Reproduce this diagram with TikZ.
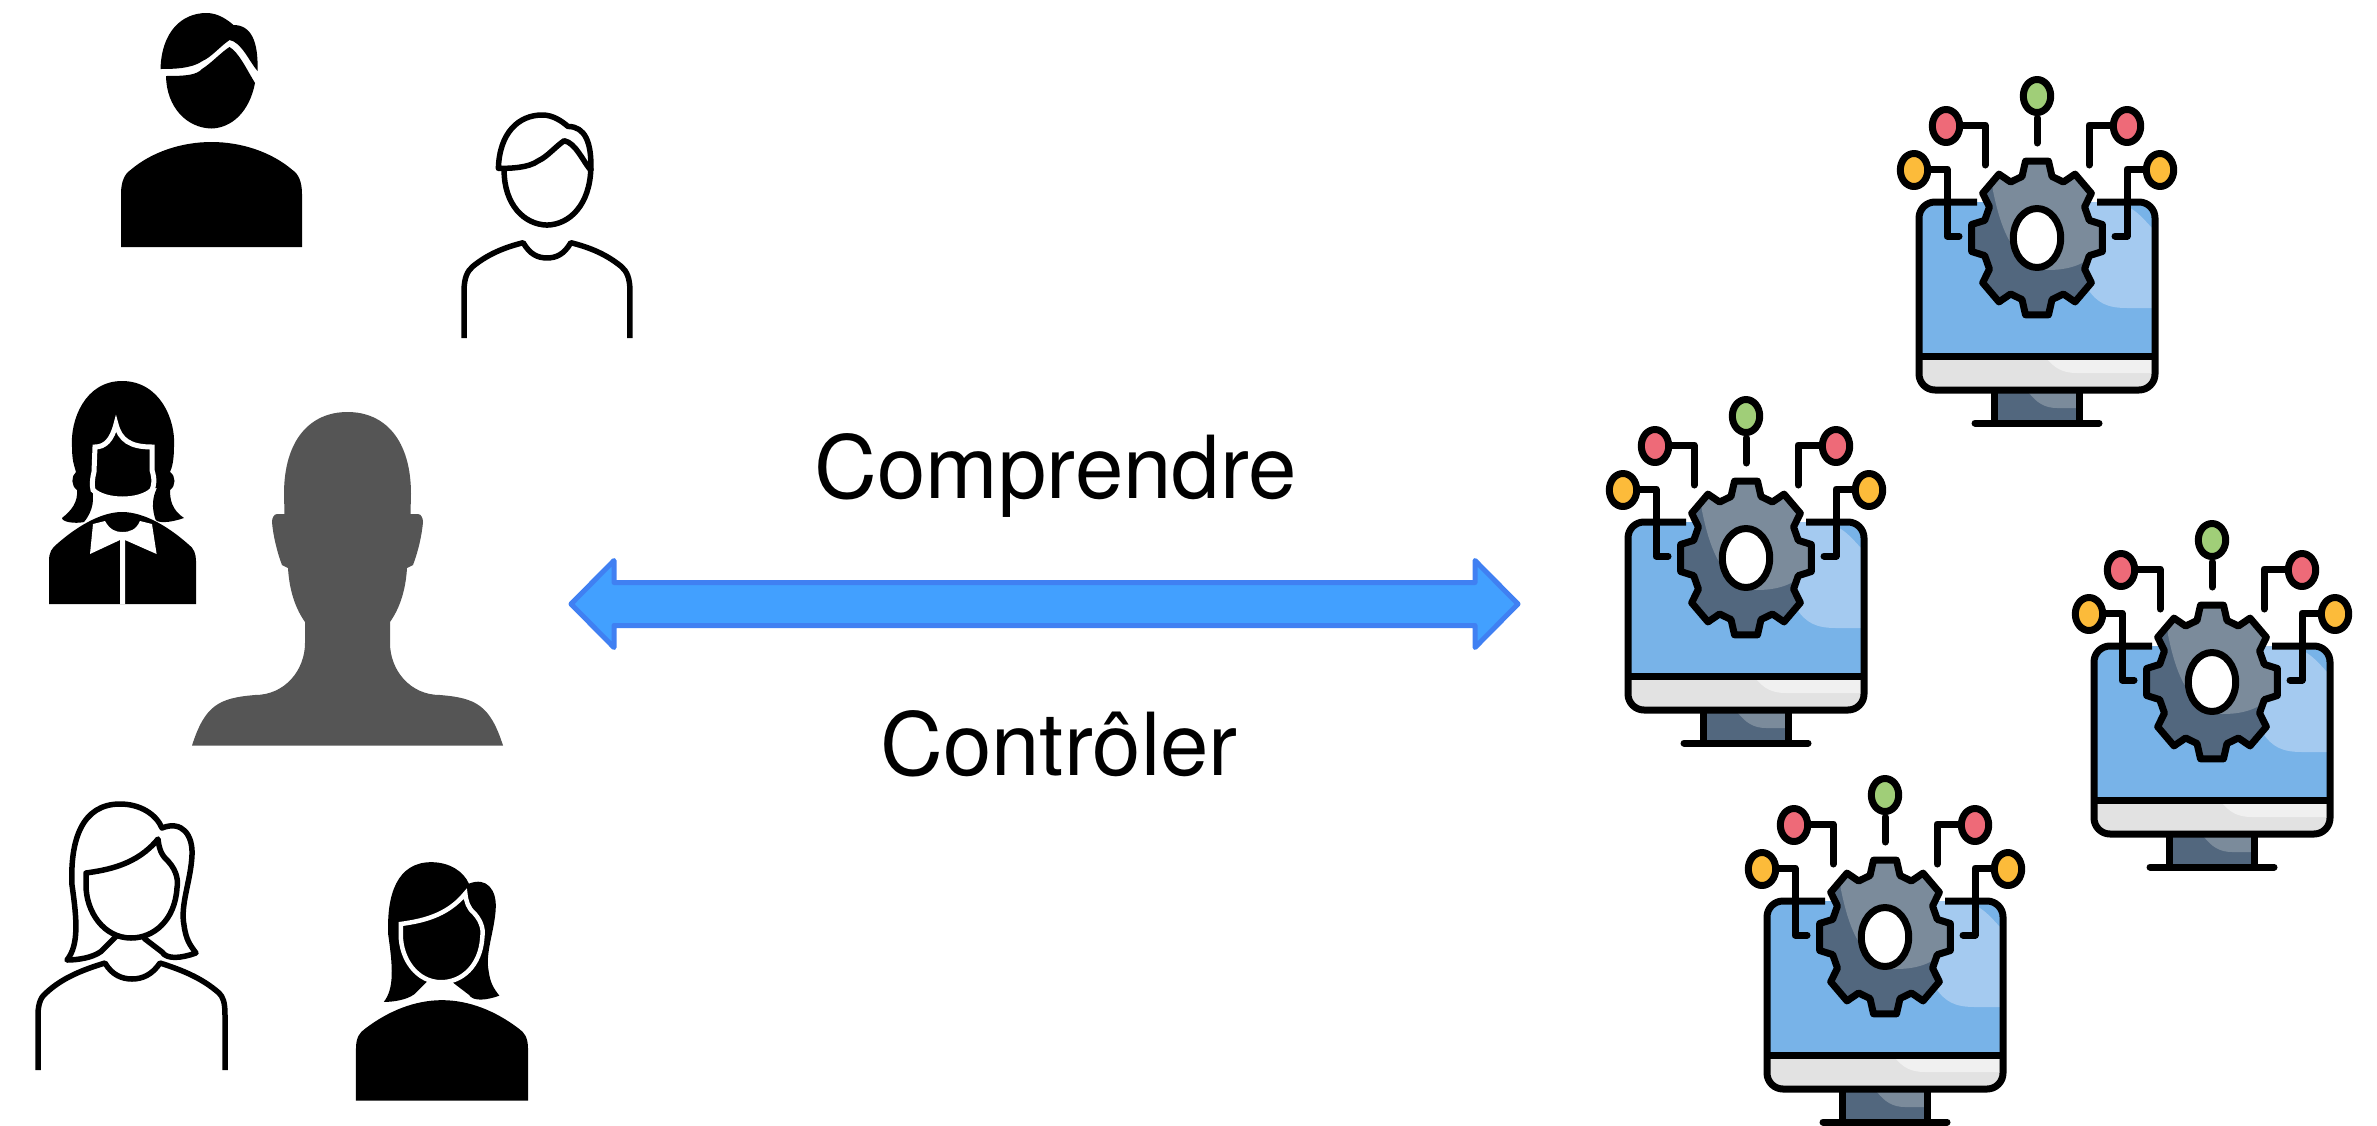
\documentclass[tikz,border=0pt]{standalone}
\usepackage{fontspec}
\setmainfont{TeX Gyre Heros}
\usepackage{tikz}
\definecolor{fleche bleu}{HTML}{42A0FF}
\definecolor{fleche bord}{HTML}{4080F2}
\definecolor{tete gris}{HTML}{555555}
\definecolor{ecran bleu}{HTML}{78B3E8}
\definecolor{ecran clair}{HTML}{A4CAF0}
\definecolor{socle gris}{HTML}{E2E2E2}
\definecolor{socle clair}{HTML}{F0F0F0}
\definecolor{roue sombre}{HTML}{52677E}
\definecolor{roue claire}{HTML}{7B8B9B}
\definecolor{point rouge}{HTML}{EE6A78}
\definecolor{point jaune}{HTML}{FCBB3A}
\definecolor{point vert}{HTML}{A0CE78}
\tikzset{
  trait/.style={draw=black, line width=5.5pt, line join=round},
  pctrait/.style={draw=black, line width=7pt, line join=round},
  legende/.style={anchor=base, font=\fontsize{87}{100}\selectfont},
  fleche/.style={draw=fleche bord, fill=fleche bleu, line width=5pt, line join=round}
}
\newcommand{\hommecheveux}{(-51,-178) .. controls (-50,-215) and (-30,-234) .. (-5,-234) .. controls (6,-234) and (15,-228) .. (22,-222) .. controls (40,-222) and (47,-205) .. (46,-176) .. controls (38,-185) and (30,-205) .. (18,-207) .. controls (8,-200) and (0,-190) .. (-9,-186) .. controls (-20,-178) and (-40,-178) .. (-51,-178) -- cycle}
\newcommand{\femmecheveux}{(-65,-110) .. controls (-53,-125) and (-55,-150) .. (-60,-185) .. controls (-62,-230) and (-50,-266) .. (-12,-266) .. controls (8,-266) and (24,-256) .. (30,-242) .. controls (50,-250) and (61,-235) .. (60,-215) .. controls (59,-190) and (48,-165) .. (52,-145) .. controls (54,-130) and (58,-125) .. (64,-117) .. controls (50,-112) and (35,-110) .. (30,-118) -- (13,-131) -- (-1,-150) -- (-17.5,-132) -- (-31,-118.5) .. controls (-40,-112) and (-55,-110) .. (-65,-110) -- cycle}
\newcommand{\femmevisage}{(-46,-197) .. controls (-25,-200) and (5,-205) .. (26,-231) .. controls (27,-222) and (29,-215) .. (36,-209) .. controls (46,-198) and (46,-188) .. (45,-182) .. controls (43,-150) and (22,-132) .. (-1,-132) .. controls (-28,-132) and (-46,-158) .. (-46,-185) -- cycle}
\newcommand{\pcroue}{(-16:64) \foreach \a in {0,45,...,315} { -- (\a-16:64) -- (\a-10:78) -- (\a+10:78) -- (\a+16:64) } -- cycle}
\newcommand{\hommeplein}[3] {\begin{scope}[shift={(#1)}, scale=#2]
  \coordinate (#3) at (0,0);
  \fill \hommecheveux;
  \fill (-45.5,-171) .. controls (-25,-171) and (-15,-172) .. (-9.5,-178) .. controls (0,-184) and (10,-195) .. (18,-200) .. controls (27,-195) and (35,-178) .. (43.5,-164) .. controls (38,-135) and (20,-119) .. (0,-118.5) .. controls (-25,-119) and (-45,-140) .. (-45.5,-171) -- cycle;
  \fill (-90.5,0) -- (-90.5,-53) .. controls (-90.5,-65) and (-87,-73) .. (-81,-77) .. controls (-60,-95) and (-30,-105) .. (0,-105) .. controls (30,-105) and (60,-95) .. (81,-77) .. controls (87,-73) and (90.5,-65) .. (90.5,-53) -- (90.5,0) -- cycle;
\end{scope}}
\newcommand{\hommetrait}[3] {\begin{scope}[shift={(#1)}, scale=#2]
  \coordinate (#3) at (0,0);
  \draw[trait] \hommecheveux;
  \draw[trait] (-45,-176) .. controls (-45,-140) and (-24,-119) .. (0,-118.5) .. controls (24,-119) and (45,-140) .. (46,-178);
  \draw[trait] (-87,0) -- (-87,-50) .. controls (-87,-62) and (-84,-70) .. (-78,-75) .. controls (-62,-88) and (-45,-95) .. (-25,-100) .. controls (-18,-88) and (-10,-84) .. (0,-84) .. controls (10,-84) and (18,-88) .. (25,-100) .. controls (45,-95) and (62,-88) .. (78,-75) .. controls (84,-70) and (87,-62) .. (87,-50) -- (87,0);
\end{scope}}
\newcommand{\femmetrait}[3] {\begin{scope}[shift={(#1)}, scale=#2]
  \coordinate (#3) at (0,0);
  \draw[trait, fill=white] \femmecheveux;
  \draw[trait, fill=white] \femmevisage;
  \draw[trait] (-94,0) -- (-94,-55) .. controls (-94,-68) and (-90,-74) .. (-86,-77) .. controls (-70,-92) and (-50,-100) .. (-27,-107) .. controls (-20,-95) and (-10,-91) .. (0,-91) .. controls (10,-91) and (20,-95) .. (28,-107) .. controls (50,-100) and (70,-92) .. (87,-77) .. controls (91,-73) and (93,-68) .. (93,-55) -- (93,0);
\end{scope}}
\newcommand{\femmepleine}[3] {\begin{scope}[shift={(#1)}, scale=#2]
  \coordinate (#3) at (0,0);
  \fill \femmecheveux;
  \draw[draw=white, fill=black, line width=4.5pt] \femmevisage;
  \fill (-96,0) -- (-96,-58) .. controls (-96,-70) and (-92,-76) .. (-86,-80) .. controls (-60,-100) and (-30,-112) .. (0,-112) .. controls (30,-112) and (60,-100) .. (86,-80) .. controls (92,-76) and (96,-70) .. (96,-58) -- (96,0) -- cycle;
\end{scope}}
\newcommand{\pcicone}[2] {\begin{scope}[shift={(#1)}]
  \coordinate (#2) at (0,0);
  \fill[ecran bleu, rounded corners=16pt] (-117,-36) rectangle (117,151);
  \fill[ecran clair] (117,-8) .. controls (105,-20) and (95,-36) .. (70,-36) -- (50,-36) -- (50,50) .. controls (60,65) and (70,70) .. (90,70) -- (117,70) -- cycle;
  \fill[socle gris] (-117,118) -- (117,118) [rounded corners=16pt] -- (117,151) -- (-117,151) [sharp corners] -- cycle;
  \fill[socle clair] (10,121) .. controls (18,130) and (25,135) .. (40,135) -- (114,135) -- (114,121) -- cycle;
  \fill[roue sombre] (-43,152) rectangle (42,182);
  \fill[roue claire] (-8,155) .. controls (0,165) and (8,170) .. (20,170) -- (40,170) -- (40,155) -- cycle;
  \draw[pctrait, rounded corners=16pt] (-60,-36) -- (-118,-36) -- (-118,152) -- (118,152) -- (118,-36) -- (60,-36);
  \draw[pctrait] (-118,118) -- (118,118);
  \draw[pctrait] (-43,152) -- (-43,184);
  \draw[pctrait] (42,152) -- (42,184);
  \draw[pctrait, line cap=round] (-62,185) -- (62,185);
  % la roue
  \begin{scope}[xscale=.85]
    \fill[roue sombre] \pcroue;
    \begin{scope}
      \clip \pcroue;
      \fill[roue claire] (-55,-100) -- (-52,-48) .. controls (-45,-20) and (-33,25) .. (12,32) .. controls (35,32) and (53,28) .. (70,15) -- (95,-30) -- (95,-100) -- cycle;
    \end{scope}
    \draw[pctrait] \pcroue;
  \end{scope}
  \draw[pctrait, fill=white] (0,0) ellipse [x radius=23.7, y radius=29.5];
  % les antennes
  \draw[pctrait, line cap=round] (0,-120) -- (0,-95);
  \draw[pctrait, line cap=round] (-75,-113) -- (-52,-113) -- (-52,-73);
  \draw[pctrait, line cap=round] (75,-113) -- (52,-113) -- (52,-73);
  \draw[pctrait, line cap=round] (-107,-69) -- (-90,-69) -- (-90,-2) -- (-78,-2);
  \draw[pctrait, line cap=round] (107,-69) -- (90,-69) -- (90,-2) -- (78,-2);
  \draw[pctrait, fill=point vert] (0,-142) ellipse [x radius=13.7, y radius=16.5];
  \draw[pctrait, fill=point rouge] (-91,-112) ellipse [x radius=13.7, y radius=16.5];
  \draw[pctrait, fill=point rouge] (90,-112) ellipse [x radius=13.7, y radius=16.5];
  \draw[pctrait, fill=point jaune] (-123,-68) ellipse [x radius=13.7, y radius=16.5];
  \draw[pctrait, fill=point jaune] (123,-68) ellipse [x radius=13.7, y radius=16.5];
\end{scope}}

\begin{document}
\begin{tikzpicture}[x=1pt, y=-1pt]
\useasboundingbox (0,0) rectangle (2377,1125);

\hommeplein{211.5,247}{1}{homme1};
\hommetrait{547,338}{.953}{homme2};
\femmetrait{132,1070}{1}{femme1};
\femmepleine{442,1100.5}{.896}{femme2};

% la fille aux tresses
\fill (72,447) .. controls (70,420) and (85,381) .. (122,381) .. controls (160,381) and (176,420) .. (174,447) .. controls (174,460) and (172,468) .. (170,472) .. controls (176,476) and (176,486) .. (170,490) .. controls (170,500) and (172,510) .. (184,518) .. controls (170,523) and (155,524) .. (155,518) .. controls (152,508) and (152,498) .. (157,488) -- (92,488) .. controls (94,498) and (94,510) .. (84,522) .. controls (75,524) and (62,522) .. (62,518) .. controls (72,510) and (78,502) .. (77,490) .. controls (71,486) and (71,476) .. (76,472) .. controls (74,465) and (72,460) .. (72,447) -- cycle;
\draw[draw=white, fill=black, line width=5pt] (95,447) .. controls (105,447) and (112,440) .. (116,424) .. controls (120,440) and (130,447) .. (152,447) -- (152,470) .. controls (155,480) and (154,485) .. (152,490) .. controls (140,502) and (105,502) .. (93,490) .. controls (92,485) and (92,480) .. (94,472) -- cycle;
\fill (49,604) -- (49,561) .. controls (49,552) and (52,548) .. (57,544) .. controls (75,528) and (100,512) .. (122,512) .. controls (145,512) and (170,528) .. (188,544) .. controls (194,548) and (196,554) .. (196,561) -- (196,604) -- cycle;
\fill[white] (93,524) -- (105,521) .. controls (110,530) and (116,532) .. (122,532) .. controls (130,532) and (136,530) .. (140,521) -- (152,524) -- (156.6,554) -- (125,540) -- (125,604) -- (120,604) -- (120,540) -- (90,554) -- cycle;

% la grande tete
\fill[tete gris] (347.5,412) .. controls (385,412) and (411,440) .. (411,494) -- (410.5,514) -- (418,514) .. controls (421,514) and (423,518) .. (423,522) .. controls (422,535) and (418,552) .. (413,565) -- (407,568) .. controls (406,585) and (402,605) .. (390,622) -- (390,643) .. controls (390,670) and (410,695) .. (440,695) .. controls (476,698) and (490,705) .. (503,745.5) -- (192,745.5) .. controls (205,705) and (219,698) .. (255,695) .. controls (285,695) and (305,670) .. (305,643) -- (305,622) .. controls (293,605) and (289,585) .. (288,568) -- (282,565) .. controls (277,552) and (273,535) .. (272,522) .. controls (272,518) and (274,514) .. (277,514) -- (284.5,514) -- (284,494) .. controls (284,440) and (310,412) .. (347.5,412) -- cycle;

\coordinate (gauche) at (571,604);
\coordinate (droite) at (1518,604);
\draw[fleche] (gauche) -- ++(43,-43.5) -- ++(0,22) -- ++(861,0) -- ++(0,-22) -- (droite) -- ++(-43,43.5) -- ++(0,-22) -- ++(-861,0) -- ++(0,22) -- cycle;

\node (comprendre) at (1055.5,498) [legende] {Comprendre};
\node (controler) at (1059,775) [legende] {Contrôler};

\pcicone{2037,238}{pc1};
\pcicone{1746,558}{pc2};
\pcicone{2212,682}{pc3};
\pcicone{1885,937}{pc4};
\end{tikzpicture}
\end{document}
